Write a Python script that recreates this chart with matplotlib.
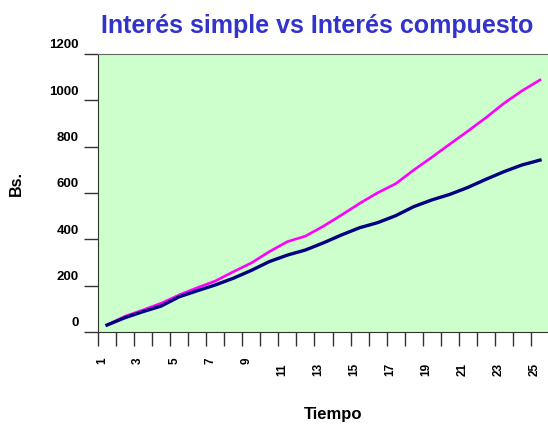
import numpy as np
import matplotlib.pyplot as plt
from matplotlib.transforms import ScaledTranslation

plt.rcParams['font.family'] = ['Liberation Sans', 'DejaVu Sans']

# data
tiempo = list(range(1, 26))
simple = [30, 62, 88, 112, 152, 178, 203, 232, 266, 304, 332, 354, 385,
          419, 450, 472, 502, 541, 570, 594, 624, 659, 692, 721, 742]
compuesto = [30, 68, 95, 124, 160, 191, 220, 260, 298, 347, 390, 414, 457,
             505, 555, 601, 640, 699, 754, 811, 867, 925, 987, 1041, 1088]
y_ticks = [0, 200, 400, 600, 800, 1000, 1200]
x_labels = [str(t) for t in tiempo if t % 2 == 1]

fig = plt.figure(figsize=(5.48, 4.24), dpi=100)
ax = fig.add_axes([98 / 548, 92 / 424, 451 / 548, 278 / 424])
ax.set_facecolor('#CCFFCC')

ax.plot(tiempo, compuesto, color='#FF00FF', lw=1.9)
ax.plot(tiempo, simple, color='#000080', lw=2.4)

ax.set_xlim(0.5, len(tiempo) + 0.5)
ax.set_ylim(0, 1200)

# ticks sit on the category boundaries, labels on odd categories
ax.set_xticks(np.arange(0.5, len(tiempo) + 0.6, 1.0), minor=True)
ax.set_xticks([t for t in tiempo if t % 2 == 1])
ax.set_xticklabels(x_labels, rotation=90, fontsize=8.5, fontweight='bold',
                   va='top')
ax.tick_params(axis='x', which='major', length=0, pad=18)
ax.tick_params(axis='x', which='minor', length=10, width=1, direction='out',
               color='#333333')
for lbl in ax.get_xticklabels():
    dy = -0.06 if len(lbl.get_text()) > 1 else 0.0
    lbl.set_transform(lbl.get_transform() +
                      ScaledTranslation(-0.05, dy, fig.dpi_scale_trans))

ax.set_yticks(y_ticks)
ax.set_yticklabels([str(v) for v in y_ticks], fontsize=9.5, fontweight='bold')
ax.tick_params(axis='y', length=10, width=1, direction='out', pad=4,
               color='#333333')
for lbl in ax.get_yticklabels():
    lbl.set_transform(lbl.get_transform() +
                      ScaledTranslation(0, 0.10, fig.dpi_scale_trans))

ax.spines['right'].set_visible(False)
ax.spines['top'].set_color('#666666')
ax.spines['left'].set_color('#333333')
ax.spines['bottom'].set_color('#333333')

fig.text(317 / 548, 1 - 26 / 424, 'Interés simple vs Interés compuesto',
         ha='center', va='center', fontsize=18, fontweight='bold',
         color='#3333CC')
fig.text(16 / 548, 1 - 184 / 424, 'Bs.', rotation=90, ha='center',
         va='center', fontsize=11.5, fontweight='bold')
fig.text(333 / 548, 1 - 415 / 424, 'Tiempo', ha='center', va='center',
         fontsize=12, fontweight='bold')

fig.savefig('out.png', dpi=100)
